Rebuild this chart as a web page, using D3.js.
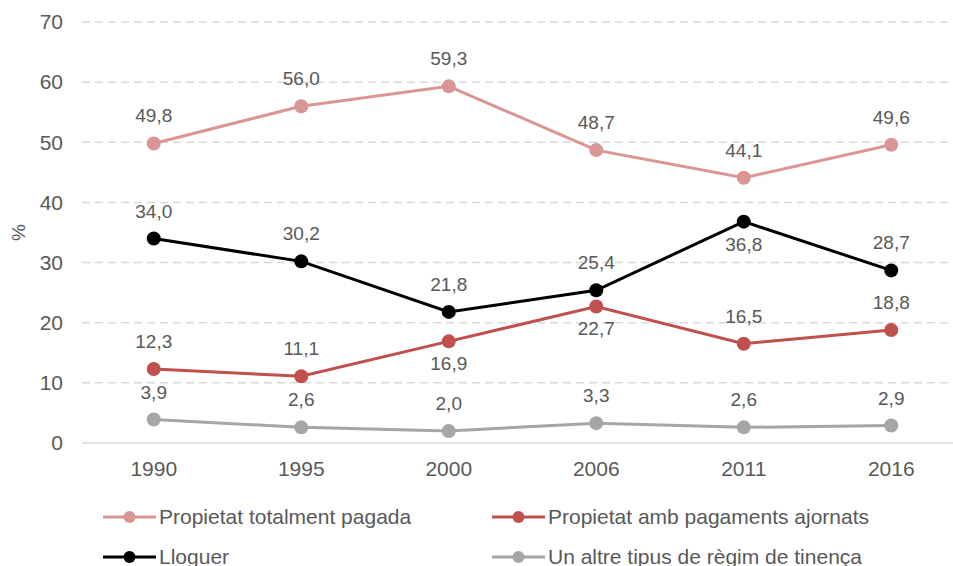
<!DOCTYPE html>
<html>
<head>
<meta charset="utf-8">
<script src="https://d3js.org/d3.v7.min.js"></script>
<style>
  body { margin: 0; background: #fff; }
  text { font-family: "Liberation Sans", Arial, sans-serif; fill: #595959; }
</style>
</head>
<body>
<script>
// chart data
const years = ["1990", "1995", "2000", "2006", "2011", "2016"];
const seriesNames = ["Propietat totalment pagada", "Propietat amb pagaments ajornats", "Lloguer", "Un altre tipus de règim de tinença"];
const pagada = [49.8, 56.0, 59.3, 48.7, 44.1, 49.6];
const ajornats = [12.3, 11.1, 16.9, 22.7, 16.5, 18.8];
const lloguer = [34.0, 30.2, 21.8, 25.4, 36.8, 28.7];
const altre = [3.9, 2.6, 2.0, 3.3, 2.6, 2.9];
const yTicks = [0, 10, 20, 30, 40, 50, 60, 70];

const colors = ["#d99694", "#c0504d", "#000000", "#a6a6a6"];
// labels that sit under their point instead of above
const below = { 1: [2, 3], 2: [4] };

const width = 953, height = 566;
const margin = { left: 80, right: -12, top: 22, bottom: 123 };

const svg = d3.select("body").append("svg")
    .attr("width", width)
    .attr("height", height);

const x = d3.scaleBand()
    .domain(years)
    .range([margin.left, width - margin.right]);

const y = d3.scaleLinear()
    .domain([0, 70])
    .range([height - margin.bottom, margin.top]);

// gridlines
svg.append("g")
    .selectAll("line")
    .data(yTicks)
    .join("line")
        .attr("x1", 82)
        .attr("x2", width)
        .attr("y1", d => y(d))
        .attr("y2", d => y(d))
        .attr("stroke", "#d9d9d9")
        .attr("stroke-width", 1.5)
        .attr("stroke-dasharray", d => d === 0 ? null : "8,5");

// y axis labels
const yAxis = svg.append("g")
    .attr("transform", "translate(63,0)")
    .call(d3.axisLeft(y).tickValues(yTicks).tickSize(0).tickPadding(0));
yAxis.select(".domain").remove();
yAxis.selectAll("text")
    .attr("font-size", 21)
    .style("font-family", "Liberation Sans, Arial, sans-serif")
    .attr("fill", "#595959");

// x axis labels
const xAxis = svg.append("g")
    .attr("transform", `translate(0,${y(0) + 18})`)
    .call(d3.axisBottom(x).tickSize(0).tickPadding(0));
xAxis.select(".domain").remove();
xAxis.selectAll("text")
    .attr("font-size", 21)
    .style("font-family", "Liberation Sans, Arial, sans-serif")
    .attr("fill", "#595959");

svg.append("text")
    .attr("transform", `translate(25,${y(35)}) rotate(-90)`)
    .attr("text-anchor", "middle")
    .attr("font-size", 19)
    .text("%");

const allSeries = [pagada, ajornats, lloguer, altre];
const line = d3.line()
    .x((d, i) => x(years[i]) + x.bandwidth() / 2)
    .y(d => y(d));

const fmt = v => v.toFixed(1).replace(".", ",");

allSeries.forEach((vals, s) => {
    const g = svg.append("g");
    g.append("path")
        .datum(vals)
        .attr("fill", "none")
        .attr("stroke", colors[s])
        .attr("stroke-width", 3)
        .attr("d", line);
    g.selectAll("circle")
        .data(vals)
        .join("circle")
            .attr("cx", (d, i) => x(years[i]) + x.bandwidth() / 2)
            .attr("cy", d => y(d))
            .attr("r", 7)
            .attr("fill", colors[s]);
    g.selectAll("text")
        .data(vals)
        .join("text")
            .attr("x", (d, i) => x(years[i]) + x.bandwidth() / 2)
            .attr("y", (d, i) => (below[s] || []).includes(i) ? y(d) + 29 : y(d) - 21)
            .attr("text-anchor", "middle")
            .attr("font-size", 19)
            .text(d => fmt(d));
});

// legend
const legend = svg.append("g");
const legPos = [[103, 517], [492, 517], [103, 557], [492, 557]];
seriesNames.forEach((name, i) => {
    const [lx, ly] = legPos[i];
    const item = legend.append("g").attr("transform", `translate(${lx},${ly})`);
    item.append("line")
        .attr("x1", 0).attr("x2", 53)
        .attr("stroke", colors[i])
        .attr("stroke-width", 3);
    item.append("circle")
        .attr("cx", 26.5)
        .attr("r", 6)
        .attr("fill", colors[i]);
    item.append("text")
        .attr("x", 56)
        .attr("dy", "0.35em")
        .attr("font-size", 21)
        .text(name);
});
</script>
</body>
</html>
